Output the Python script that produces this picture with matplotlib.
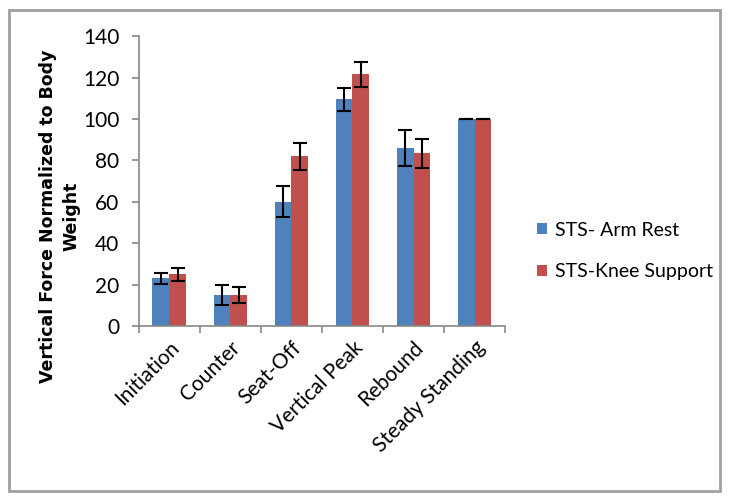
import matplotlib.pyplot as plt
import numpy as np
from matplotlib.patches import Rectangle

categories = ['Initiation', 'Counter', 'Seat-Off', 'Vertical Peak', 'Rebound', 'Steady Standing']
arm_rest = [23, 15, 60, 109.5, 86, 100]
arm_rest_err = [2.7, 5, 7.5, 5.5, 8.5, 0.2]
knee_support = [25, 15, 82, 121.5, 83.5, 100]
knee_support_err = [3.2, 4, 6.5, 6.2, 7, 0.2]
series_names = ['STS- Arm Rest', 'STS-Knee Support']

plt.rcParams['font.family'] = ['Lato', 'DejaVu Sans']

fig = plt.figure(figsize=(7.3, 5.01), dpi=100)
ax = fig.add_axes([0.19, 0.349, 0.502, 0.579])

x = np.arange(len(categories))
w = 0.275
err_kw = dict(ecolor='black', capsize=5, elinewidth=1.5, capthick=1.5)
ax.bar(x - w / 2, arm_rest, w, yerr=arm_rest_err, color='#4f81bd', label=series_names[0], error_kw=err_kw)
ax.bar(x + w / 2, knee_support, w, yerr=knee_support_err, color='#c0504d', label=series_names[1], error_kw=err_kw)

ax.set_xlim(-0.5, len(categories) - 0.5)
ax.set_ylim(0, 140)
ax.set_yticks(range(0, 141, 20))
ax.set_xticks(x)
ax.set_xticklabels(categories, rotation=45, ha='right', rotation_mode='anchor', fontsize=15)
ax.tick_params(axis='x', length=0, pad=8)
ax.set_xticks(np.arange(-0.5, len(categories), 1), minor=True)
ax.tick_params(axis='x', which='minor', length=5, color='#888888', width=1.2)
ax.tick_params(axis='y', labelsize=15, length=5, color='#888888', width=1.2, pad=9)

for side in ['top', 'right']:
    ax.spines[side].set_visible(False)
for side in ['left', 'bottom']:
    ax.spines[side].set_color('#888888')
    ax.spines[side].set_linewidth(1.2)

# y title sits a bit below the plot centre, like the original
fig.text(60 / 730, 1 - 216 / 501, 'Vertical Force Normalized to Body\nWeight', rotation=90,
         ha='center', va='center', multialignment='center', fontsize=12.5, fontweight='bold',
         family='DejaVu Sans', linespacing=1.4)

ax.legend(loc='center left', bbox_to_anchor=(537 / 730, 1 - 251 / 501), bbox_transform=fig.transFigure,
          frameon=False, fontsize=14, borderpad=0, borderaxespad=0,
          handlelength=0.5, handleheight=0.5, labelspacing=1.25, handletextpad=0.45)

fig.add_artist(Rectangle((9 / 730, 10 / 501), 711 / 730, 481 / 501, transform=fig.transFigure,
                         fill=False, edgecolor='#a0a0a0', linewidth=2))

fig.savefig('out.png', dpi=100)
